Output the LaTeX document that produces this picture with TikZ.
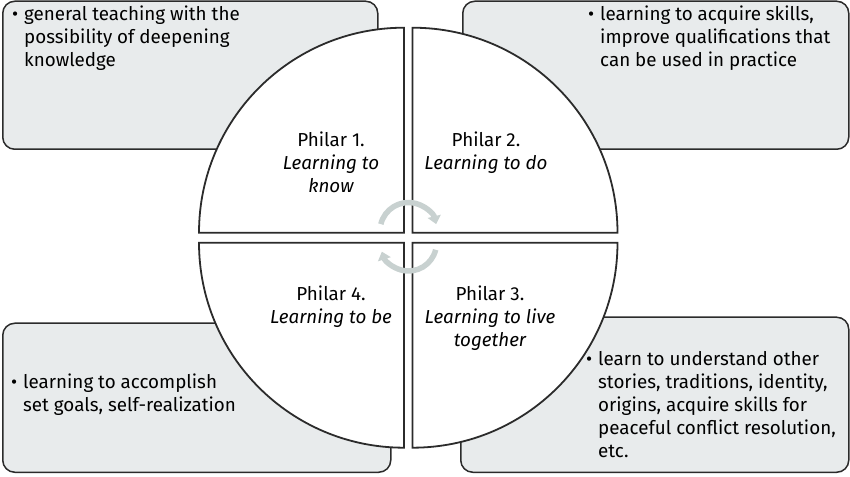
\documentclass[tikz,border=0pt]{standalone}
\usepackage{fontspec}
\setmainfont{Fira Sans}
\usetikzlibrary{arrows.meta}
\definecolor{panelgray}{HTML}{E8EBEC}
\definecolor{turngray}{HTML}{C8D1D0}
\definecolor{edgegray}{HTML}{2B2B2B}
\newcommand{\pt}{\llap{\textbullet\hspace{6pt}}}

\begin{document}
\begin{tikzpicture}[x=1pt, y=1pt, font=\fontsize{18.8}{23}\selectfont,
  panel/.style={draw=edgegray, line width=1.5pt, fill=panelgray, rounded corners=12pt, inner sep=0pt, anchor=south west},
  quarter/.style={draw=edgegray, line width=1.8pt, fill=white},
  note/.style={anchor=north west, align=left, inner sep=0pt},
  pillar/.style={anchor=north, align=center, inner sep=0pt},
  turn/.style={draw=turngray, line width=5.5pt, -{Triangle[length=8pt, width=13pt]}}]
  \useasboundingbox (0,0) rectangle (850,476);
  \node[panel, minimum width=375pt, minimum height=148pt] (knowbox) at (2,326) {};
  \node[panel, minimum width=386pt, minimum height=148pt] (dobox)   at (462,326) {};
  \node[panel, minimum width=388pt, minimum height=149pt] (bebox)   at (2,3) {};
  \node[panel, minimum width=388pt, minimum height=155pt] (livebox) at (460,3) {};

  \draw[quarter] (404,243.3) -- (199,243.3) arc[start angle=180, end angle=90, radius=205] -- cycle;
  \draw[quarter] (412.5,243.3) -- (412.5,448.3) arc[start angle=90, end angle=0, radius=205] -- cycle;
  \draw[quarter] (404,233.3) -- (199,233.3) arc[start angle=180, end angle=270, radius=205] -- cycle;
  \draw[quarter] (412.5,233.3) -- (617.5,233.3) arc[start angle=0, end angle=-90, radius=205] -- cycle;

  \coordinate (hubtop) at (408.5,245);
  \coordinate (hubbot) at (408.5,233);
  \draw[turn] ([shift={(166:28.5)}]hubtop) arc[start angle=166, end angle=14, radius=28.5];
  \draw[turn] ([shift={(-14:28)}]hubbot) arc[start angle=-14, end angle=-162, radius=28];

  \node[note] (knownote) at (24,470.5) {\pt general teaching with the\\possibility of deepening\\knowledge};
  \node[note] (donote)   at (600,470.5) {\pt learning to acquire skills,\\improve qualifications that\\can be used in practice};
  \node[note] (benote)   at (23,102.5) {\pt learning to accomplish\\set goals, self-realization};
  \node[note] (livenote) at (598,124.5) {\pt learn to understand other\\stories, traditions, identity,\\origins, acquire skills for\\peaceful conflict resolution,\\etc.};

  \node[pillar] (know) at (331,344.8) {Philar 1.\\\itshape Learning to\\\itshape know};
  \node[pillar] (do)   at (486,344.8) {Philar 2.\\\itshape Learning to do};
  \node[pillar] (be)   at (331,190.5) {Philar 4.\\\itshape Learning to be};
  \node[pillar] (live) at (490,190.5) {Philar 3.\\\itshape Learning to live\\\itshape together};
\end{tikzpicture}
\end{document}
